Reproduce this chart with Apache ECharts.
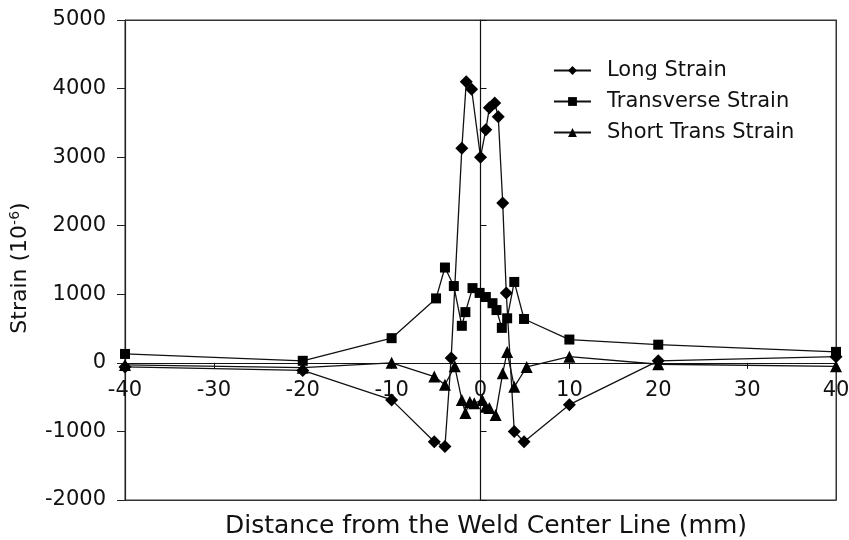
<!DOCTYPE html>
<html>
<head>
<meta charset="utf-8">
<script src="https://cdn.jsdelivr.net/npm/echarts@6/dist/echarts.min.js"></script>
<style>
html, body { margin: 0; padding: 0; background: #fff; }
#chart { width: 849px; height: 540px; }
</style>
</head>
<body>
<div id="chart"></div>
<script>
// distance from weld centre line (mm) and strain (10^-6)
var longX = [-40, -20, -10, -5.2, -4, -3.3, -2.1, -1.6, -1.0, 0, 0.6, 1.0, 1.6, 2.0, 2.5, 2.9, 3.8, 4.9, 10, 20, 40];
var longY = [-60, -110, -540, -1150, -1220, 70, 3130, 4100, 3990, 3000, 3400, 3720, 3790, 3590, 2330, 1020, -1000, -1150, -610, 30, 90];

var transX = [-40, -20, -10, -5, -4, -3, -2.1, -1.7, -0.9, -0.1, 0.6, 1.35, 1.8, 2.4, 3.0, 3.8, 4.9, 10, 20, 40];
var transY = [130, 30, 360, 940, 1390, 1120, 540, 740, 1090, 1020, 960, 870, 770, 510, 650, 1180, 640, 340, 265, 160];

var shortX = [-40, -20, -10, -5.2, -4, -2.9, -2.1, -1.7, -1.2, -0.7, 0.2, 0.6, 1.0, 1.7, 2.5, 3.0, 3.8, 5.2, 10, 20, 40];
var shortY = [-30, -70, 0, -200, -320, -50, -540, -730, -570, -590, -540, -640, -660, -760, -150, 160, -350, -60, 90, -20, -50];

var xTicks = { min: -40, max: 40, interval: 10 };
var yTicks = { min: -2000, max: 5000, interval: 1000 };

function pairs(xs, ys) {
    var out = [];
    for (var i = 0; i < xs.length; i++) out.push([xs[i], ys[i]]);
    return out;
}

var chart = echarts.init(document.getElementById('chart'));
var font = 'DejaVu Sans, Verdana, sans-serif';

// the x axis sits on strain = 0, i.e. 2000/7000 of the plot height above the bottom
var gridTop = 20, gridBottom = 40;
var plotH = 540 - gridTop - gridBottom;
var zeroLift = plotH * (0 - yTicks.min) / (yTicks.max - yTicks.min);

// plain frame axes (no ticks, no labels)
function frameAxis(pos, range) {
    return {
        type: 'value', position: pos,
        min: range.min, max: range.max, interval: range.interval,
        axisLine: { onZero: false, show: true, lineStyle: { color: '#333', width: 1 } },
        axisTick: { show: false }, axisLabel: { show: false }, splitLine: { show: false }
    };
}

var option = {
    animation: false,
    textStyle: { fontFamily: font, color: '#111' },
    title: {
        text: 'Distance from the Weld Center Line (mm)',
        left: 481, bottom: -4, textAlign: 'center',
        textStyle: { fontSize: 25, fontWeight: 'normal', color: '#111', fontFamily: font }
    },
    grid: {
        left: 125, right: 13, top: gridTop, bottom: gridBottom,
        outerBoundsMode: 'none', containLabel: false,
        show: true, borderColor: '#333', borderWidth: 1
    },
    legend: {
        orient: 'vertical',
        left: 548, top: 55,
        itemWidth: 37, itemHeight: 11, itemGap: 10,
        textStyle: { fontSize: 21, color: '#111', fontFamily: font, padding: [0, 0, 0, 11] },
        data: ['Long Strain', 'Transverse Strain', 'Short Trans Strain']
    },
    xAxis: [
        {
            type: 'value',
            min: xTicks.min, max: xTicks.max, interval: xTicks.interval,
            offset: -zeroLift,
            axisLine: { onZero: false, lineStyle: { color: '#111', width: 1.2 } },
            axisTick: { show: true, length: 6, lineStyle: { color: '#111' } },
            axisLabel: { fontSize: 21, color: '#111', margin: 17, fontFamily: font },
            splitLine: { show: false }
        },
        frameAxis('bottom', xTicks),
        frameAxis('top', xTicks)
    ],
    yAxis: [
        {
            type: 'value', position: 'left',
            min: yTicks.min, max: yTicks.max, interval: yTicks.interval,
            axisLine: { onZero: false, show: true, lineStyle: { color: '#222', width: 1.2 } },
            axisTick: { show: true, length: 8, lineStyle: { color: '#222' } },
            axisLabel: { fontSize: 21, color: '#111', margin: 19, fontFamily: font,
                formatter: function (v) { return String(v); } },
            splitLine: { show: false },
            name: 'Strain (10{sup|-6})',
            nameLocation: 'middle', nameGap: 92, nameRotate: 90,
            nameTextStyle: {
                fontSize: 22, color: '#111', fontFamily: font, padding: [0, 16, 0, 0],
                rich: { sup: { fontSize: 14, color: '#111', fontFamily: font, padding: [0, 0, 11, 0] } }
            }
        },
        {
            type: 'value', position: 'left',
            min: yTicks.min, max: yTicks.max, interval: yTicks.interval,
            axisLine: { onZero: true, onZeroAxisIndex: 0, show: true, lineStyle: { color: '#111', width: 1.2 } },
            axisTick: { show: true, inside: true, length: 6, lineStyle: { color: '#111' } },
            axisLabel: { show: false },
            splitLine: { show: false }
        },
        frameAxis('right', yTicks)
    ],
    series: [
        {
            name: 'Long Strain', type: 'line',
            xAxisIndex: 0, yAxisIndex: 0,
            data: pairs(longX, longY),
            symbol: 'diamond', symbolSize: 13,
            lineStyle: { color: '#111', width: 1.3 },
            itemStyle: { color: '#000' }
        },
        {
            name: 'Transverse Strain', type: 'line',
            xAxisIndex: 0, yAxisIndex: 0,
            data: pairs(transX, transY),
            symbol: 'rect', symbolSize: 10,
            lineStyle: { color: '#111', width: 1.3 },
            itemStyle: { color: '#000' }
        },
        {
            name: 'Short Trans Strain', type: 'line',
            xAxisIndex: 0, yAxisIndex: 0,
            data: pairs(shortX, shortY),
            symbol: 'triangle', symbolSize: 12,
            lineStyle: { color: '#111', width: 1.3 },
            itemStyle: { color: '#000' }
        }
    ]
};
chart.setOption(option);
</script>
</body>
</html>
